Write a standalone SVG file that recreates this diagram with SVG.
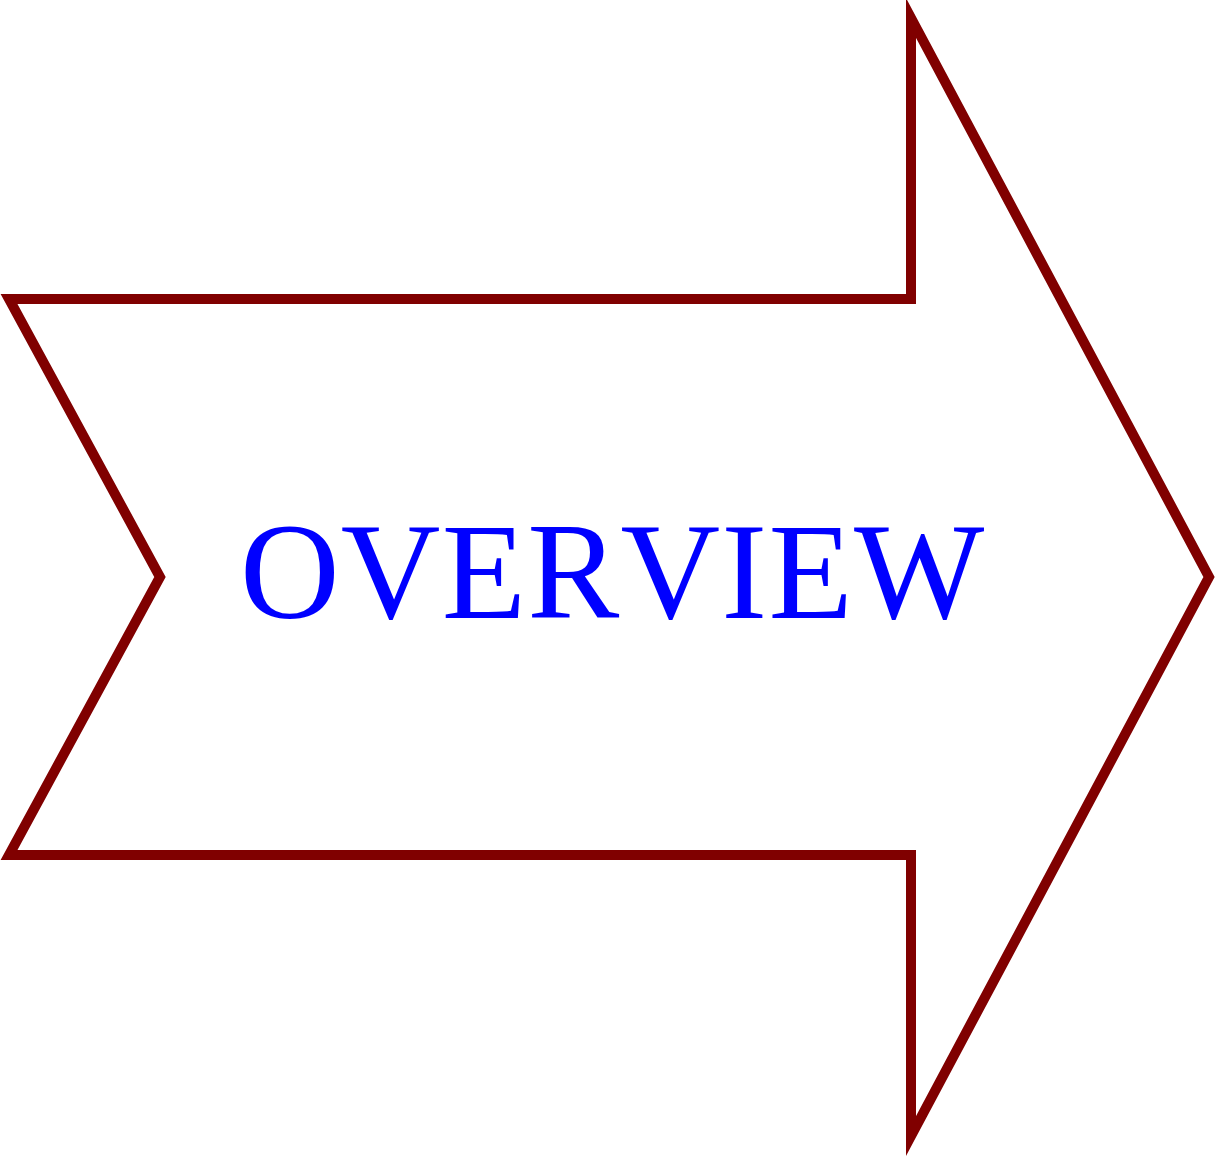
<svg xmlns="http://www.w3.org/2000/svg" width="1215" height="1158" viewBox="0 0 1215 1158">
<style>
.arrow{fill:#ffffff;stroke:#800000;stroke-width:10;stroke-miterlimit:10}
.label{font-family:"Liberation Serif","Times New Roman",serif;font-size:138px;fill:#0000ff;font-kerning:none;letter-spacing:1.2px}
</style>
<rect width="1215" height="1158" fill="#ffffff"/>
<g id="overview-arrow">
<polygon class="arrow" points="9,299 911,299 911,18 1209,577 911,1136 911,855 9,855 160,577"/>
<text class="label" x="240" y="618">OVERVIEW</text>
</g>
<g id="connectors"/>
</svg>
